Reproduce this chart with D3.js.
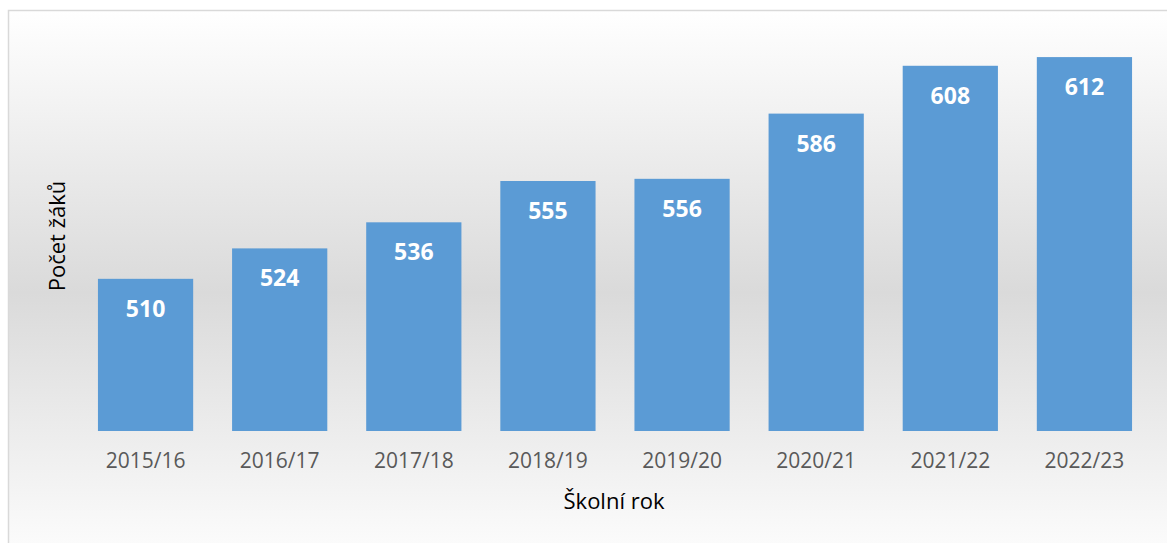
<!DOCTYPE html>
<html>
<head>
<meta charset="utf-8">
<script src="https://cdn.jsdelivr.net/npm/d3@7"></script>
<style>
  body { margin: 0; background: #fff; }
  svg { display: block; }
</style>
</head>
<body>
<div id="chart"></div>
<script>
// school years and pupil counts
var years = ["2015/16", "2016/17", "2017/18", "2018/19", "2019/20", "2020/21", "2021/22", "2022/23"];
var pupils = [510, 524, 536, 555, 556, 586, 608, 612];
var yDomain = [440, 620];

function init(){
    var w = 1167;
    var h = 543;
    var font = "'Open Sans', 'Noto Sans', sans-serif";

    var svg = d3.select('#chart')
                .append('svg')
                .attr('width', w)
                .attr('height', h);

    // background gradient: white -> gray -> white
    var grad = svg.append('defs')
                  .append('linearGradient')
                  .attr('id', 'bg')
                  .attr('gradientUnits', 'userSpaceOnUse')
                  .attr('x1', 0).attr('y1', 10)
                  .attr('x2', 0).attr('y2', 575);
    grad.append('stop').attr('offset', 0).attr('stop-color', '#ffffff');
    grad.append('stop').attr('offset', 0.5).attr('stop-color', '#dadada');
    grad.append('stop').attr('offset', 1).attr('stop-color', '#ffffff');

    svg.append('rect')
        .attr('x', 8.5)
        .attr('y', 10.5)
        .attr('width', 1200)
        .attr('height', 600)
        .attr('fill', 'url(#bg)')
        .attr('stroke', '#d9d9d9')
        .attr('stroke-width', 1.5);

    var xScale = d3.scaleBand()
                   .domain(years)
                   .range([78.5, 1151.5])
                   .paddingInner(0.29)
                   .paddingOuter(0.145);

    var yScale = d3.scaleLinear()
                   .domain(yDomain)
                   .range([431, 39.7]);

    // bars
    svg.selectAll('rect.bar')
        .data(pupils)
        .enter()
        .append('rect')
        .attr('class', 'bar')
        .attr('x', function(d, i){ return xScale(years[i]); })
        .attr('y', function(d){ return yScale(d); })
        .attr('width', xScale.bandwidth())
        .attr('height', function(d){ return yScale(yDomain[0]) - yScale(d); })
        .attr('fill', '#5b9bd5');

    // value labels inside bars
    svg.selectAll('text.val')
        .data(pupils)
        .enter()
        .append('text')
        .attr('class', 'val')
        .text(function(d){ return d; })
        .attr('x', function(d, i){ return xScale(years[i]) + xScale.bandwidth() / 2; })
        .attr('y', function(d){ return yScale(d) + 38; })
        .attr('text-anchor', 'middle')
        .attr('fill', '#ffffff')
        .style('font-family', font)
        .style('font-weight', 'bold')
        .style('font-size', '23px');

    // category axis without line/ticks
    var xAxis = svg.append('g')
        .attr('transform', 'translate(0,431)')
        .call(d3.axisBottom(xScale).tickSize(0).tickPadding(22));
    xAxis.select('.domain').remove();
    xAxis.selectAll('text')
        .attr('fill', '#595959')
        .style('font-family', font)
        .style('font-size', '21px');

    // axis titles
    svg.append('text')
        .text('Školní rok')
        .attr('x', 614)
        .attr('y', 509)
        .attr('text-anchor', 'middle')
        .attr('fill', '#000')
        .style('font-family', font)
        .style('font-size', '22px');

    svg.append('text')
        .text('Počet žáků')
        .attr('transform', 'translate(65,236) rotate(-90)')
        .attr('text-anchor', 'middle')
        .attr('fill', '#000')
        .style('font-family', font)
        .style('font-size', '22px');
}

window.onload = init;
</script>
</body>
</html>
